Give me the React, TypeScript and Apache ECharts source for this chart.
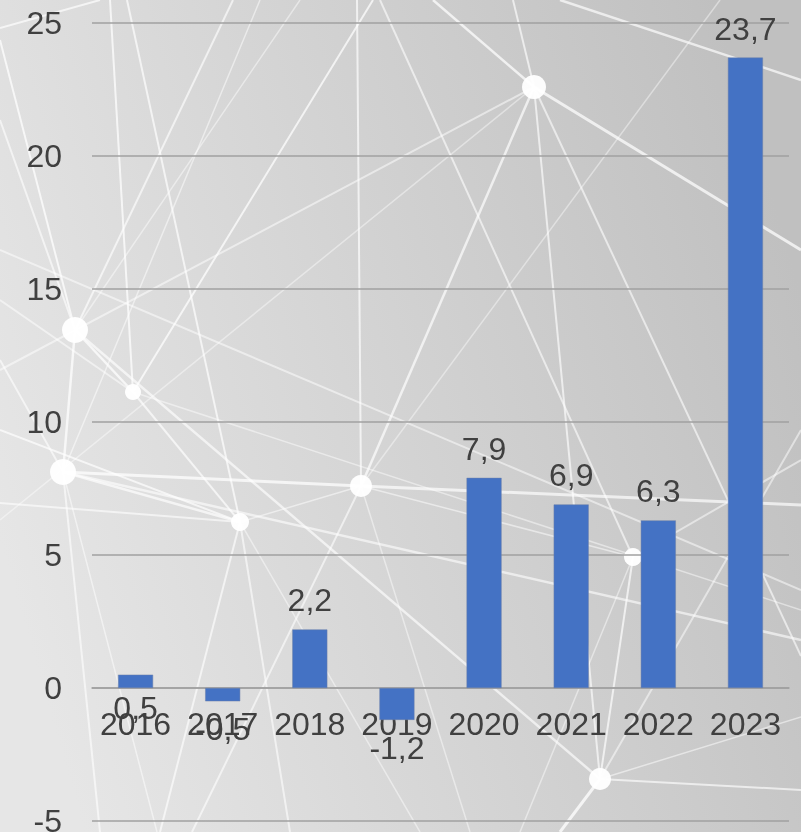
import React, { useEffect, useRef } from "react";
import * as echarts from "echarts";

const years = ["2016", "2017", "2018", "2019", "2020", "2021", "2022", "2023"];
const values = [0.5, -0.5, 2.2, -1.2, 7.9, 6.9, 6.3, 23.7];
const yTicks = { min: -5, max: 25, interval: 5 };

// Decorative background network (positions in px)
const nodes: [number, number, number][] = [
  [534, 87, 12], [133, 392, 8], [75, 330, 13], [63, 472, 13],
  [240, 522, 9], [361, 486, 11], [633, 557, 9], [600, 779, 11],
];
const A = [534, 87], B = [133, 392], D = [75, 330], E = [63, 472], C = [240, 522], F = [361, 486], G = [633, 557], H = [600, 779];
const lines: [number[], number[], number, number][] = [
  [[0, 28], [100, 0], 2, 0.8],
  [[110, 0], B, 2, 0.85],
  [[127, 0], C, 2, 0.8],
  [[0, 40], D, 2, 0.85],
  [D, [233, 0], 2, 0.75],
  [B, [373, 0], 2, 0.85],
  [E, [260, 0], 1.5, 0.6],
  [[357, 0], F, 2, 0.8],
  [A, [0, 370], 2, 0.6],
  [A, [0, 520], 1.5, 0.5],
  [A, [433, 0], 2.5, 0.85],
  [A, [513, 0], 2, 0.75],
  [A, [801, 250], 3, 0.85],
  [A, F, 2.5, 0.8],
  [A, [801, 656], 2, 0.7],
  [A, H, 2, 0.75],
  [[380, 0], G, 2, 0.7],
  [E, F, 3, 0.85],
  [[0, 430], C, 2, 0.8],
  [[0, 503], C, 2, 0.7],
  [C, [160, 832], 2, 0.75],
  [C, [290, 832], 2, 0.7],
  [E, [100, 832], 2, 0.7],
  [E, [157, 832], 1.5, 0.6],
  [F, [192, 832], 2, 0.7],
  [F, [801, 505], 3, 0.8],
  [H, [560, 832], 3, 0.9],
  [H, [801, 790], 2, 0.75],
  [H, G, 2, 0.8],
  [H, [801, 717], 1.5, 0.6],
  [H, D, 2.5, 0.75],
  [D, E, 2.5, 0.85],
  [D, B, 2.5, 0.85],
  [B, C, 2, 0.8],
  [E, C, 2.5, 0.8],
  [C, F, 1.5, 0.6],
  [F, G, 1.5, 0.6],
  [G, [801, 460], 2, 0.6],
  [E, [801, 640], 2.5, 0.7],
  [B, [801, 610], 1.5, 0.55],
  [[0, 250], [801, 590], 2, 0.6],
  [[560, 0], [801, 80], 2.5, 0.8],
  [F, [470, 832], 1.5, 0.55],
  [C, [420, 832], 1.5, 0.55],
  [G, [520, 832], 1.5, 0.55],
  [H, [801, 430], 2, 0.6],
  [[0, 120], D, 2, 0.7],
  [[0, 300], B, 2, 0.6],
  [[0, 360], E, 2, 0.7],
  [D, [300, 0], 1.5, 0.55],
  [F, [720, 0], 1.5, 0.5],
];

export default function App() {
  const ref = useRef<HTMLDivElement>(null);
  useEffect(() => {
    if (!ref.current) return;
    const chart = echarts.init(ref.current, null, { renderer: "svg" });
    const textColor = "#404040";
    const font = "Liberation Sans, Arial, sans-serif";

    const graphics: any[] = [
      {
        type: "rect",
        z: -100,
        shape: { x: 0, y: 0, width: 801, height: 832 },
        style: {
          fill: new echarts.graphic.LinearGradient(0, 0.65, 1, 0.35, [
            { offset: 0, color: "#e6e6e6" },
            { offset: 0.5, color: "#d3d3d3" },
            { offset: 1, color: "#c0c0c0" },
          ]),
        },
        silent: true,
      },
    ];
    lines.forEach(([p, q, w, o]) => {
      graphics.push({
        type: "line",
        z: -90,
        silent: true,
        shape: { x1: p[0], y1: p[1], x2: q[0], y2: q[1] },
        style: { stroke: "#ffffff", lineWidth: w, opacity: o * 0.85 },
      });
    });
    nodes.forEach(([x, y, r]) => {
      graphics.push({
        type: "circle",
        z: -80,
        silent: true,
        shape: { cx: x, cy: y, r },
        style: { fill: "#ffffff", opacity: 0.95 },
      });
    });

    const fmt = (v: number) => String(v).replace(".", ",");
    const gridTop = 23;
    const gridBottom = 11;
    const plotH = 832 - gridTop - gridBottom;
    const zeroOffset = -plotH * (0 - yTicks.min) / (yTicks.max - yTicks.min);

    chart.setOption({
      animation: false,
      graphic: graphics,
      grid: {
        left: 92,
        right: 12,
        top: gridTop,
        bottom: gridBottom,
        containLabel: false,
        outerBoundsMode: "none",
      },
      xAxis: {
        type: "category",
        data: years,
        offset: zeroOffset,
        axisLine: { show: true, onZero: false, lineStyle: { color: "#a0a0a0", width: 1.5 } },
        axisTick: { show: false },
        axisLabel: {
          color: textColor,
          fontSize: 32,
          fontFamily: font,
          margin: 20,
          interval: 0,
          hideOverlap: false,
        },
        z: 1,
      },
      yAxis: {
        type: "value",
        min: yTicks.min,
        max: yTicks.max,
        interval: yTicks.interval,
        axisLine: { show: false },
        axisTick: { show: false },
        axisLabel: { color: textColor, fontSize: 32, fontFamily: font, margin: 30 },
        splitLine: { lineStyle: { color: "#a0a0a0", width: 1.5 } },
      },
      series: [
        {
          type: "bar",
          barWidth: 35,
          z: 3,
          itemStyle: { color: "#4472C4", borderColor: "#6a7fa8", borderWidth: 0.5 },
          label: {
            show: true,
            color: textColor,
            fontSize: 32,
            fontFamily: font,
            formatter: (p: any) => fmt(p.value),
          },
          labelLayout: { hideOverlap: false },
          data: values.map((v, i) => {
            if (i === 0) {
              return { value: v, label: { position: "bottom", distance: 4 } };
            }
            if (v < 0) {
              return { value: v, label: { position: "bottom", distance: 12 } };
            }
            return { value: v, label: { position: "top", distance: 13 } };
          }),
        },
      ],
    });
    return () => chart.dispose();
  }, []);
  return (
    <div
      ref={ref}
      style={{ position: "fixed", left: 0, top: 0, width: 801, height: 832 }}
    />
  );
}
